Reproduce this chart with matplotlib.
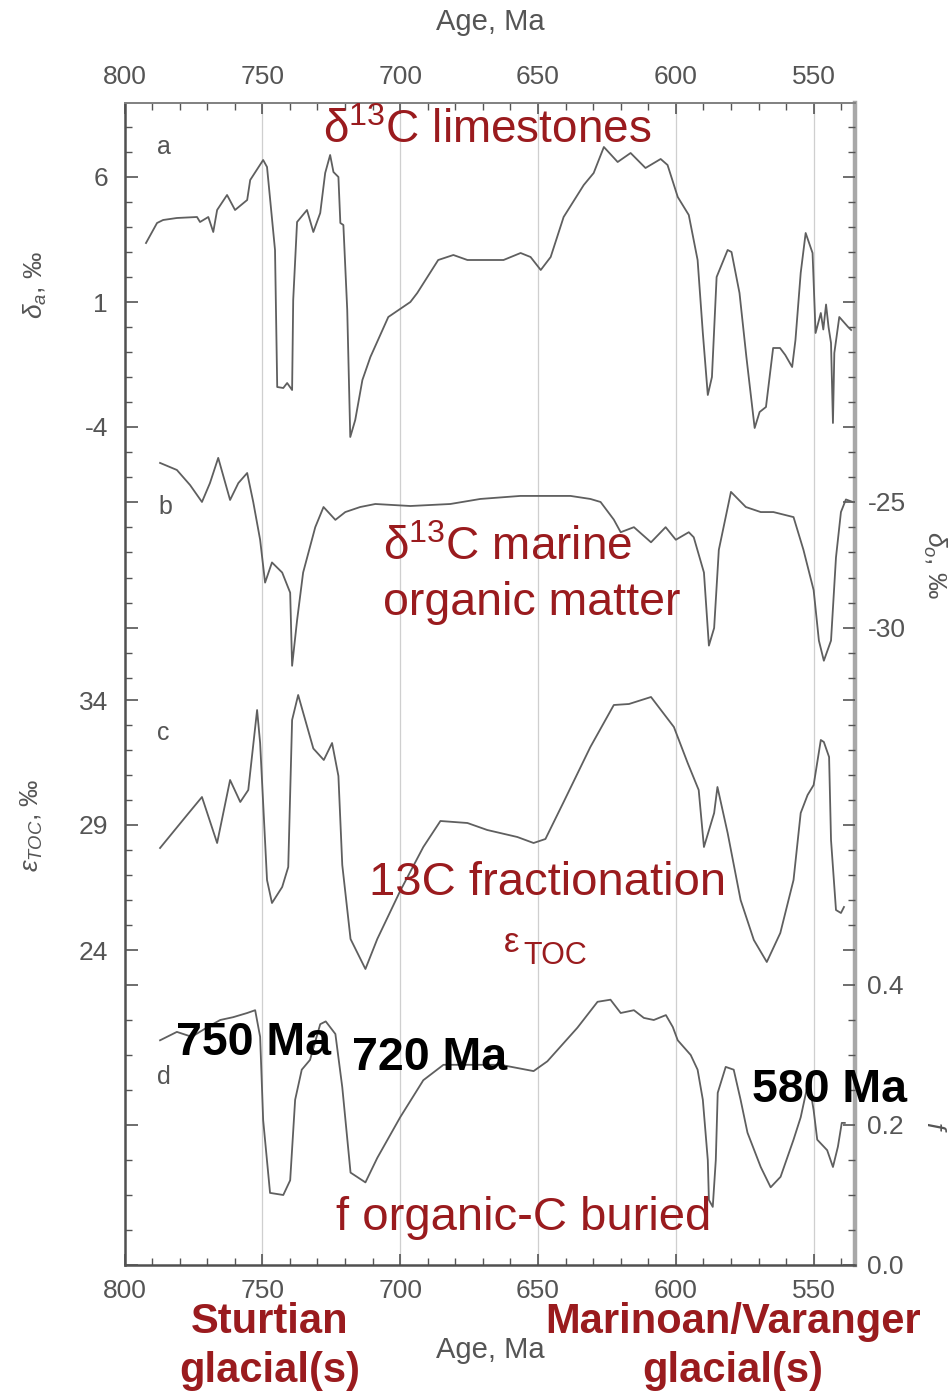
import matplotlib
matplotlib.use("Agg")
import matplotlib.pyplot as plt
from matplotlib.ticker import FixedLocator, MultipleLocator

plt.rcParams['font.family'] = ['Liberation Sans', 'DejaVu Sans']
plt.rcParams['mathtext.fontset'] = 'custom'
plt.rcParams['mathtext.rm'] = 'Liberation Sans'
plt.rcParams['mathtext.it'] = 'Liberation Sans:italic'
plt.rcParams['mathtext.bf'] = 'Liberation Sans:bold'
plt.rcParams['axes.unicode_minus'] = False

# ---- data (age in Ma) ----
# a: d13C of carbonates (limestones), permil
age_a = [792.2, 788.2, 786.0, 781.0, 773.7, 772.6, 769.6, 767.8, 766.4, 762.8,
         759.9, 755.5, 754.4, 749.7, 748.3, 745.4, 744.6, 742.4, 741.0, 739.2,
         738.8, 737.4, 733.8, 731.5, 729.0, 727.2, 725.4, 724.2, 722.4, 721.7,
         720.6, 719.2, 718.1, 716.3, 713.7, 710.8, 704.3, 696.3, 693.8, 686.2,
         680.7, 675.6, 662.5, 656.3, 652.7, 649.0, 645.4, 640.7, 633.4, 629.8,
         626.1, 621.1, 616.4, 611.0, 605.5, 603.0, 599.3, 595.3, 592.1, 590.2,
         588.4, 586.9, 585.2, 581.2, 579.8, 576.9, 574.4, 571.4, 569.6, 567.3,
         564.7, 562.2, 560.3, 557.8, 556.6, 554.7, 552.9, 550.4, 549.3, 547.4,
         546.5, 545.5, 544.6, 543.7, 543.0, 542.5, 540.7, 537.5, 536.4]
d13c_carb = [3.36, 4.16, 4.28, 4.36, 4.40, 4.20, 4.40, 3.80, 4.68, 5.28,
             4.68, 5.08, 5.88, 6.68, 6.40, 3.08, -2.40, -2.44, -2.24, -2.52,
             1.08, 4.20, 4.68, 3.80, 4.56, 6.16, 6.88, 6.20, 6.00, 4.16,
             4.08, 0.68, -4.40, -3.72, -2.12, -1.20, 0.40, 1.00, 1.36, 2.68,
             2.88, 2.68, 2.68, 2.96, 2.80, 2.28, 2.80, 4.40, 5.68, 6.16,
             7.20, 6.60, 6.96, 6.36, 6.72, 6.48, 5.20, 4.48, 2.68, -0.24,
             -2.72, -2.00, 2.00, 3.08, 3.00, 1.36, -1.20, -4.04, -3.40, -3.20,
             -0.84, -0.84, -1.12, -1.60, -0.52, 2.16, 3.76, 2.96, -0.24, 0.56,
             -0.10, 0.90, 0.00, -0.64, -3.84, -1.04, 0.40, 0.00, -0.12]

# b: d13C of marine organic matter, permil
age_b = [787.1, 781.0, 776.2, 771.9, 769.0, 766.0, 761.7, 758.7, 755.5, 753.3,
         750.8, 749.0, 746.5, 742.8, 739.9, 739.2, 737.4, 735.2, 730.8, 727.8,
         723.5, 719.9, 714.5, 709.0, 696.3, 681.8, 670.9, 656.4, 638.2, 631.0,
         627.3, 622.5, 620.0, 615.2, 609.0, 603.7, 600.0, 595.3, 593.5, 589.8,
         588.0, 586.1, 584.4, 580.0, 574.6, 569.2, 564.6, 557.3, 553.7, 550.0,
         548.1, 546.3, 543.7, 541.9, 540.1, 538.3, 535.8]
d13c_org = [-23.45, -23.73, -24.33, -25.00, -24.25, -23.25, -24.92, -24.25, -23.85, -25.00,
            -26.50, -28.20, -27.40, -27.80, -28.60, -31.50, -29.70, -27.80, -26.00, -25.20,
            -25.71, -25.40, -25.20, -25.08, -25.16, -25.08, -24.88, -24.76, -24.76, -24.88,
            -25.00, -25.70, -26.20, -26.00, -26.60, -26.00, -26.50, -26.20, -26.40, -27.80,
            -30.70, -30.00, -26.90, -24.60, -25.20, -25.40, -25.40, -25.60, -26.90, -28.50,
            -30.50, -31.30, -30.50, -27.20, -25.40, -24.90, -25.00]

# c: isotopic fractionation eps_TOC, permil
age_c = [787.1, 777.3, 771.9, 766.4, 761.7, 758.0, 755.1, 751.9, 750.8, 748.3,
         746.5, 742.8, 740.6, 739.2, 737.0, 731.5, 727.7, 724.7, 722.4, 721.0,
         718.0, 712.6, 708.3, 700.0, 691.6, 685.4, 675.6, 668.4, 657.5, 651.6,
         647.3, 640.7, 631.0, 622.5, 617.0, 609.0, 600.7, 595.7, 591.7, 589.8,
         586.1, 584.9, 581.2, 576.5, 571.7, 567.0, 562.1, 557.3, 554.7, 552.2,
         550.0, 547.4, 546.3, 544.4, 543.7, 541.9, 540.1, 539.0]
eps_toc = [28.08, 29.40, 30.12, 28.28, 30.80, 29.92, 30.40, 33.60, 32.28, 26.80,
           25.88, 26.52, 27.32, 33.20, 34.20, 32.06, 31.60, 32.28, 30.96, 27.40,
           24.44, 23.24, 24.44, 26.36, 28.12, 29.16, 29.08, 28.80, 28.52, 28.28,
           28.44, 29.92, 32.12, 33.80, 33.84, 34.12, 32.92, 31.48, 30.40, 28.12,
           29.48, 30.52, 28.68, 26.00, 24.40, 23.52, 24.68, 26.80, 29.48, 30.20,
           30.60, 32.40, 32.32, 31.72, 28.40, 25.60, 25.48, 25.72]

# d: fraction of carbon buried as organic carbon
age_d = [787.1, 781.0, 775.6, 770.2, 765.3, 760.6, 755.5, 752.6, 750.8, 749.7,
         747.2, 742.4, 739.9, 738.1, 735.7, 732.7, 729.0, 727.0, 723.5, 721.0,
         718.0, 712.6, 708.3, 700.0, 691.6, 684.3, 663.6, 651.6, 646.6, 635.7,
         628.4, 623.7, 620.0, 615.2, 611.6, 608.0, 603.6, 601.1, 599.3, 594.6,
         592.1, 590.2, 588.4, 588.0, 586.6, 585.5, 584.8, 581.9, 579.0, 576.5,
         574.0, 569.2, 565.6, 562.0, 557.3, 554.7, 551.8, 550.0, 548.7, 545.1,
         543.0, 541.2, 539.8, 538.7]
f_org = [0.321, 0.333, 0.326, 0.339, 0.350, 0.354, 0.360, 0.364, 0.326, 0.207,
         0.103, 0.100, 0.121, 0.236, 0.279, 0.293, 0.344, 0.348, 0.330, 0.254,
         0.132, 0.118, 0.153, 0.211, 0.264, 0.286, 0.286, 0.277, 0.291, 0.339,
         0.376, 0.379, 0.360, 0.364, 0.353, 0.350, 0.357, 0.340, 0.321, 0.300,
         0.279, 0.236, 0.150, 0.093, 0.083, 0.150, 0.246, 0.283, 0.279, 0.236,
         0.189, 0.140, 0.111, 0.126, 0.179, 0.211, 0.264, 0.221, 0.179, 0.164,
         0.140, 0.169, 0.203, 0.203]

age_ticks = [800, 750, 700, 650, 600, 550]
glacial_lines = [750, 700, 650, 600, 550]

W, H = 950, 1393
RED = '#9a1b1e'
GRAY = '#555555'
LINE = '#5f5f5f'


def fx(px):
    return px / W


def fy(py):
    return 1 - py / H


fig = plt.figure(figsize=(W / 100, H / 100), dpi=100)
L, R, T, B = 124.5, 855, 103, 1265
rect = [fx(L), fy(B), (R - L) / W, (B - T) / H]

ax = fig.add_axes(rect)
ax.set_xlim(800, 535)
ax.set_ylim(0, 1)
ax.set_yticks([])
ax.xaxis.set_major_locator(FixedLocator(age_ticks))
ax.xaxis.set_minor_locator(MultipleLocator(10))
ax.tick_params(axis='x', which='both', direction='in', top=True, bottom=True,
               labeltop=True, labelbottom=True, colors=GRAY, labelsize=19)
ax.tick_params(axis='x', which='major', length=8, width=1.2, pad=10)
ax.tick_params(axis='x', which='minor', length=5, width=1.0)
for xv in glacial_lines:
    ax.axvline(xv, color='#cfcfcf', lw=0.9, zorder=0)
ax.spines['left'].set_color('#505050')
ax.spines['left'].set_linewidth(1.8)
ax.spines['bottom'].set_color('#505050')
ax.spines['bottom'].set_linewidth(1.8)
ax.spines['top'].set_color('#808080')
ax.spines['top'].set_linewidth(1.4)
ax.spines['right'].set_color('#a8a8a8')
ax.spines['right'].set_linewidth(3.2)


def panel(ylim, x, y, major, minor, side):
    p = fig.add_axes(rect)
    p.patch.set_visible(False)
    for s in p.spines.values():
        s.set_visible(False)
    p.set_xlim(800, 535)
    p.set_ylim(*ylim)
    p.set_xticks([])
    p.plot(x, y, color=LINE, lw=1.3)
    p.yaxis.set_major_locator(FixedLocator(major))
    p.yaxis.set_minor_locator(FixedLocator(minor))
    p.tick_params(axis='y', which='both', direction='in', left=True, right=True,
                  labelleft=(side == 'left'), labelright=(side == 'right'),
                  colors=GRAY, labelsize=19)
    p.tick_params(axis='y', which='major', length=9, width=1.2,
                  pad=(12 if side == 'left' else 9))
    p.tick_params(axis='y', which='minor', length=5, width=1.0)
    return p


pa = panel((-37.52, 8.96), age_a, d13c_carb, [6, 1, -4], list(range(-5, 9)), 'left')
pb = panel((-55.28, -9.167), age_b, d13c_org, [-25, -30], list(range(-32, -23)), 'right')
pc = panel((11.4, 57.88), age_c, eps_toc, [34, 29, 24], list(range(24, 35)), 'left')
pd = panel((0, 1.66), age_d, f_org, [0.4, 0.2, 0.0],
           [0.05, 0.1, 0.15, 0.25, 0.3, 0.35], 'right')
pb.yaxis.set_major_formatter(plt.FuncFormatter(lambda v, _: '%d' % v))
pd.yaxis.set_major_formatter(plt.FuncFormatter(lambda v, _: '%.1f' % v))

# axis labels
fig.text(fx(490), fy(22), 'Age, Ma', ha='center', va='center', fontsize=21, color=GRAY)
fig.text(fx(490), fy(1350), 'Age, Ma', ha='center', va='center', fontsize=21, color=GRAY)
fig.text(fx(35), fy(285), r'$\delta_a$, ‰', rotation=90, ha='center', va='center',
         fontsize=19, color=GRAY)
fig.text(fx(935), fy(565), r'$\delta_o$, ‰', rotation=-90, ha='center', va='center',
         fontsize=19, color=GRAY)
fig.text(fx(32), fy(825), r'$\varepsilon_{TOC}$, ‰', rotation=90, ha='center', va='center',
         fontsize=19, color=GRAY)
fig.text(fx(934), fy(1127), r'$f$', rotation=-90, ha='center', va='center',
         fontsize=19, color=GRAY)

for letter, (px, py) in zip('abcd', [(164, 147), (165, 507), (163, 733), (164, 1077)]):
    fig.text(fx(px), fy(py), letter, ha='center', va='center', fontsize=18, color=GRAY)

# red annotations
fig.text(fx(487), fy(131), r'δ$^{13}$C limestones', ha='center', va='center',
         fontsize=33, color=RED)
fig.text(fx(383), fy(548), r'δ$^{13}$C marine', ha='left', va='center',
         fontsize=33, color=RED)
fig.text(fx(383), fy(603), 'organic matter', ha='left', va='center',
         fontsize=33.5, color=RED)
fig.text(fx(548), fy(883), '13C fractionation', ha='center', va='center',
         fontsize=34, color=RED)
fig.text(fx(504), fy(943), 'ε', ha='left', va='center', fontsize=25, color=RED)
fig.text(fx(523), fy(956), 'TOC', ha='left', va='center', fontsize=22, color=RED)
fig.text(fx(524), fy(1218), 'f organic-C buried', ha='center', va='center',
         fontsize=34, color=RED)

# black ages
fig.text(fx(254), fy(1043), '750 Ma', ha='center', va='center', fontsize=33.5,
         fontweight='bold', color='black')
fig.text(fx(430), fy(1058), '720 Ma', ha='center', va='center', fontsize=33.5,
         fontweight='bold', color='black')
fig.text(fx(830), fy(1090), '580 Ma', ha='center', va='center', fontsize=33.5,
         fontweight='bold', color='black')

# glacial names
fig.text(fx(270), fy(1322), 'Sturtian', ha='center', va='center', fontsize=30,
         fontweight='bold', color=RED)
fig.text(fx(270), fy(1371), 'glacial(s)', ha='center', va='center', fontsize=30,
         fontweight='bold', color=RED)
fig.text(fx(733), fy(1322), 'Marinoan/Varanger', ha='center', va='center', fontsize=30,
         fontweight='bold', color=RED)
fig.text(fx(733), fy(1371), 'glacial(s)', ha='center', va='center', fontsize=30,
         fontweight='bold', color=RED)

fig.savefig('out.png', dpi=100)
